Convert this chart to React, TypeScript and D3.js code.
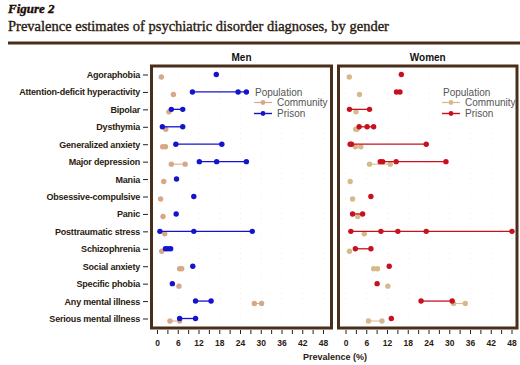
import React from 'react'
import * as d3 from 'd3'

const categories = [
  'Agoraphobia',
  'Attention-deficit hyperactivity',
  'Bipolar',
  'Dysthymia',
  'Generalized anxiety',
  'Major depression',
  'Mania',
  'Obsessive-compulsive',
  'Panic',
  'Posttraumatic stress',
  'Schizophrenia',
  'Social anxiety',
  'Specific phobia',
  'Any mental illness',
  'Serious mental illness',
]

// one list of study estimates per category
const menCommunity = [
  [1.1], [4.6], [3.3], [2.4], [1.5, 2.3], [4.0, 8.0], [1.8], [0.9], [1.6], [2.1],
  [1.2], [6.4, 7.0], [6.2], [28.0, 30.1], [3.6, 6.4],
]
const menPrison = [
  [17], [10.1, 23.3, 25.7], [4.0, 7.3], [1.4, 7.3], [5.3, 18.6], [12.1, 17.1, 25.7],
  [5.5], [10.5], [5.4], [0.7, 10.5, 27.4], [2.3, 3.0, 3.8], [10.2], [4.3],
  [11.0, 15.5], [6.4, 11.0],
]
const womenCommunity = [
  [0.95], [3.9], [2.9], [2.8, 3.2], [2.7, 4.3], [6.8, 12.8], [1.2], [1.9], [3.4], [5.3],
  [1.0], [8.0, 9.1], [12.1], [31.1, 34.5], [6.5, 10.4],
]
const womenPrison = [
  [16], [14.6, 15.6], [1.0, 6.8], [3.8, 6.1, 8.0], [1.2, 1.6, 23.2],
  [9.9, 10.6, 14.5, 28.9], [], [7.2], [1.9, 4.8], [1.4, 10.1, 15.0, 23.2, 48],
  [2.7, 7.2], [12.5], [9.0], [21.7, 30.7], [13.1],
]

const xTicks = d3.range(0, 49, 3)
const xLabels = d3.range(0, 49, 6)

const brown = '#4a2e1c'
const font = 'Liberation Sans, Arial, sans-serif'

const y = d3.scalePoint<string>().domain(categories).range([75, 319])

type PanelProps = {
  title: string
  left: number
  right: number
  x0: number
  x1: number
  community: number[][]
  prison: number[][]
  commColor: string
  prisonColor: string
  legendX: number
}

function Panel(p: PanelProps) {
  const x = d3.scaleLinear().domain([0, 48]).range([p.x0, p.x1])
  const series = [
    { vals: p.community, color: p.commColor, dy: 2, w: 1 },
    { vals: p.prison, color: p.prisonColor, dy: -0.5, w: 1.3 },
  ]
  return (
    <g>
      {xLabels.map((t) => (
        <line key={'g' + t} x1={x(t)} x2={x(t)} y1={68} y2={326}
          stroke="#f4e2e2" strokeWidth={0.6} strokeDasharray="1,4" />
      ))}
      {series.map((s, si) =>
        s.vals.map((vals, i) => {
          if (!vals.length) return null
          const cy = (y(categories[i]) as number) + s.dy
          const [lo, hi] = d3.extent(vals) as [number, number]
          return (
            <g key={si + '-' + i}>
              {vals.length > 1 && (
                <line x1={x(lo)} x2={x(hi)} y1={cy} y2={cy} stroke={s.color} strokeWidth={s.w} />
              )}
              {vals.map((v, k) => (
                <circle key={k} cx={x(v)} cy={cy} r={2.7} fill={s.color} />
              ))}
            </g>
          )
        })
      )}
      <rect x={p.left} y={66} width={p.right - p.left} height={262}
        fill="none" stroke={brown} strokeWidth={3} />
      <text x={(p.left + p.right) / 2} y={61} textAnchor="middle" fontSize={10}
        fontWeight="bold" fill="#111">{p.title}</text>
      {xTicks.map((t) => (
        <line key={'t' + t} x1={x(t)} x2={x(t)} y1={330} y2={334} stroke="#222" strokeWidth={1} />
      ))}
      {xLabels.map((t) => (
        <text key={'l' + t} x={x(t)} y={346} textAnchor="middle" fontSize={8.5}
          fontWeight="bold" fill="#2a1a10">{t}</text>
      ))}
      <g fontSize={10} fill="#555">
        <text x={p.legendX + 1} y={95.5}>Population</text>
        <line x1={p.legendX} x2={p.legendX + 18} y1={102.5} y2={102.5} stroke={p.commColor} strokeWidth={1.2} />
        <circle cx={p.legendX + 9} cy={102.5} r={2.4} fill={p.commColor} />
        <text x={p.legendX + 23} y={105.5}>Community</text>
        <line x1={p.legendX} x2={p.legendX + 18} y1={113.5} y2={113.5} stroke={p.prisonColor} strokeWidth={1.4} />
        <circle cx={p.legendX + 9} cy={113.5} r={2.4} fill={p.prisonColor} />
        <text x={p.legendX + 23} y={116.5}>Prison</text>
      </g>
    </g>
  )
}

export default function App() {
  return (
    <svg width={520} height={365} style={{ position: 'absolute', left: 0, top: 0, background: '#fff' }}
      fontFamily={font}>
      <text x={8} y={13} fontFamily="Liberation Serif, serif" fontStyle="italic" fontWeight="bold"
        fontSize={13} fill="#1a0e06" stroke="#1a0e06" strokeWidth={0.4}>Figure 2</text>
      <text x={8} y={31} fontFamily="Liberation Serif, serif" fontSize={14.5} fill="#2a1a10"
        stroke="#2a1a10" strokeWidth={0.35}>
        Prevalence estimates of psychiatric disorder diagnoses, by gender
      </text>
      <line x1={8} x2={520} y1={43} y2={43} stroke={brown} strokeWidth={3} />
      {categories.map((c) => (
        <g key={c}>
          <line x1={143} x2={148} y1={y(c)} y2={y(c)} stroke="#222" strokeWidth={1} />
          <text x={140} y={(y(c) as number) + 3} textAnchor="end" fontSize={9} fontWeight="bold"
            fill="#2a1a10" letterSpacing={-0.2}>{c}</text>
        </g>
      ))}
      <Panel title="Men" left={151.5} right={331.5} x0={157.5} x1={323.5}
        community={menCommunity} prison={menPrison} commColor="#d8a786" prisonColor="#1414cc" legendX={254} />
      <Panel title="Women" left={338.5} right={517} x0={346} x1={512}
        community={womenCommunity} prison={womenPrison} commColor="#d6b98a" prisonColor="#c8101e" legendX={442} />
      <text x={335} y={360} textAnchor="middle" fontSize={9} fontWeight="bold" fill="#2a1a10">Prevalence (%)</text>
    </svg>
  )
}
